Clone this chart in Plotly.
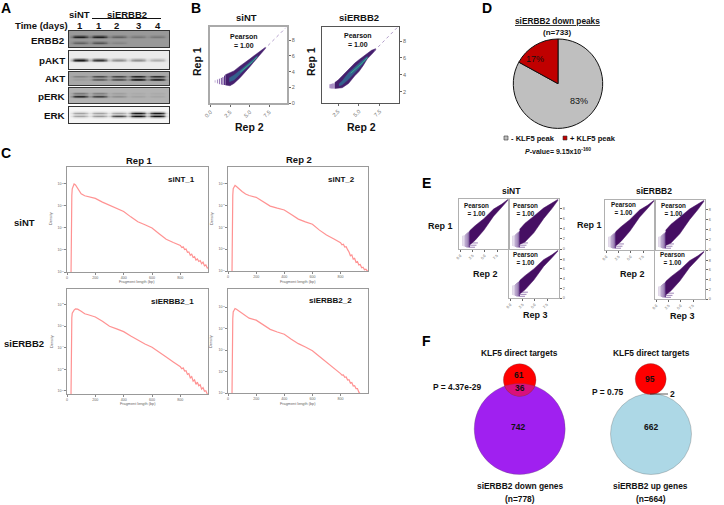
import numpy as np
import plotly.graph_objects as go

W, H = 724, 505
FONT = "Liberation Sans"

# ---- Panel A: blot band intensities per lane
lanes = [1, 2, 3, 4, 5]
lane_labels = ["1", "1", "2", "3", "4"]
erbb2_upper = [0.9, 0.9, 0.42, 0.25, 0.25]
erbb2_lower = [0.4, 0.5, 0.15, 0.0, 0.0]
pakt_band = [0.98, 0.85, 0.42, 0.42, 0.28]
akt_upper = [0.25, 0.6, 0.65, 0.85, 0.8]
akt_lower = [0.08, 0.5, 0.6, 0.95, 0.9]
perk_upper = [0.35, 0.3, 0.12, 0.05, 0.05]
perk_lower = [0.85, 0.7, 0.22, 0.1, 0.08]
erk_upper = [0.35, 0.35, 0.35, 0.95, 0.95]
erk_lower = [0.35, 0.4, 0.75, 1.0, 1.0]

# ---- Panel B: density bands (Rep 2 -> Rep 1 bounds)
b1_x = [1.9, 2.5, 3.0, 3.75, 4.5, 5.0, 5.5, 6.0, 6.5, 7.0]
b1_low = [2.3, 2.2, 2.5, 3.2, 4.0, 4.6, 5.2, 5.8, 6.4, 6.95]
b1_up = [3.6, 3.9, 4.1, 4.7, 5.2, 5.6, 6.0, 6.4, 6.7, 7.1]
b1_mid_x = [2.4, 3.0, 3.75, 4.5, 5.2, 6.0]
b1_mid_low = [2.7, 2.95, 3.65, 4.35, 5.05, 5.95]
b1_mid_up = [3.2, 3.55, 4.15, 4.75, 5.4, 6.05]
b1_core_x = [3.8, 4.3, 4.8, 5.4, 5.9]
b1_core_y = [3.95, 4.35, 4.8, 5.3, 5.85]
b1_strip_x = [0.6, 0.9, 1.15, 1.4, 1.6, 1.8]
b1_strip_low = [2.6, 2.5, 2.4, 2.35, 2.3, 2.3]
b1_strip_up = [2.9, 3.0, 3.1, 3.2, 3.3, 3.5]
b2_x = [2.1, 2.5, 3.0, 3.75, 4.5, 5.0, 5.5, 6.0, 6.5, 7.0]
b2_low = [2.4, 2.4, 2.5, 3.0, 3.9, 4.4, 5.1, 5.9, 6.4, 6.95]
b2_up = [3.1, 3.4, 3.9, 4.7, 5.4, 5.8, 6.2, 6.6, 6.9, 7.1]
b2_mid_x = [2.6, 3.0, 3.75, 4.5, 5.2, 6.0]
b2_mid_low = [2.7, 2.85, 3.5, 4.25, 5.0, 6.0]
b2_mid_up = [2.95, 3.3, 4.25, 4.95, 5.55, 6.2]
b2_core_x = [4.0, 4.5, 5.0, 5.5, 6.0]
b2_core_y = [4.2, 4.6, 5.05, 5.5, 6.05]
b2_strip_x = [1.55, 1.7, 1.85, 2.0]
b2_strip_low = [2.45, 2.4, 2.4, 2.4]
b2_strip_up = [2.9, 2.95, 3.0, 3.0]
diag_b1 = [6.8, 8.0, 8.8, 9.6]
diag_b2 = [6.8, 8.0, 8.8, 9.6]

# ---- Panel C: fragment length densities
frag_x = [27, 28, 29, 30, 31, 32, 34, 37, 42, 50, 60, 75, 100, 125, 150, 200, 250, 300, 350, 400,
          450, 500, 550, 600, 650, 700, 750, 800, 810, 820, 830, 840, 850, 860, 870, 880, 890, 900,
          910, 920, 930, 940, 950, 960, 970, 980, 990, 995]
sint_1 = [1e-7, 1e-6, 5e-6, 2e-4, 6e-4, 1e-3, 3e-3, 6e-3, 8e-3, 1.0e-2, 9e-3, 6e-3, 3.6e-3, 2.9e-3, 2.6e-3,
          2.2e-3, 1.5e-3, 1.05e-3, 7.5e-4, 5.6e-4, 3.2e-4, 1.9e-4, 1.4e-4, 1.0e-4, 5.5e-5, 3.1e-5, 2.2e-5, 1.6e-5,
          1.3e-5, 1.4e-5, 1.05e-5, 1.1e-5, 7.8e-6, 8.2e-6, 5.8e-6, 6.5e-6, 4.6e-6, 5.0e-6, 3.5e-6, 3.9e-6, 3.0e-6,
          3.3e-6, 2.4e-6, 2.8e-6, 1.9e-6, 2.1e-6, 1.5e-6, 1.6e-6]
sint_2 = [1e-7, 1e-6, 5e-6, 2e-4, 6e-4, 1e-3, 3e-3, 6e-3, 7.5e-3, 8.5e-3, 7.5e-3, 6e-3, 4.4e-3, 3.4e-3, 2.9e-3,
          2.4e-3, 1.5e-3, 9.5e-4, 7.6e-4, 6.3e-4, 3.9e-4, 2.4e-4, 1.8e-4, 1.4e-4, 7.5e-5, 4.5e-5, 3.0e-5, 2.0e-5,
          1.6e-5, 1.7e-5, 1.25e-5, 1.3e-5, 9.5e-6, 7.5e-6, 5.0e-6, 5.5e-6, 3.5e-6, 3.8e-6, 2.5e-6, 2.7e-6, 1.9e-6,
          2.0e-6, 1.4e-6, 1.5e-6, 1.15e-6, 1.2e-6, 1.0e-6, 1.0e-6]
sierbb2_1 = [1e-7, 1e-6, 5e-6, 2e-4, 4e-4, 9e-4, 2.5e-3, 4e-3, 5e-3, 5.6e-3, 6.4e-3, 6.2e-3, 5e-3, 3.8e-3, 3.4e-3,
             2.7e-3, 1.7e-3, 1.0e-3, 7.5e-4, 5.6e-4, 3.5e-4, 2.2e-4, 1.5e-4, 1.05e-4, 6e-5, 3.7e-5, 2.2e-5, 1.3e-5,
             1.05e-5, 1.15e-5, 8.2e-6, 8.6e-6, 5.8e-6, 6.3e-6, 4.0e-6, 4.6e-6, 2.8e-6, 3.2e-6, 2.0e-6, 2.5e-6, 1.7e-6,
             1.9e-6, 1.2e-6, 1.4e-6, 9.5e-7, 1.0e-6, 7e-7, 7e-7]
sierbb2_2 = [1e-7, 1e-6, 5e-6, 2e-4, 6e-4, 1e-3, 3e-3, 6e-3, 7.5e-3, 8.7e-3, 8e-3, 6.8e-3, 5.5e-3, 3.8e-3, 3.1e-3,
             2.5e-3, 1.5e-3, 9.3e-4, 7e-4, 5.5e-4, 3.2e-4, 2.0e-4, 1.4e-4, 9.3e-5, 5e-5, 2.8e-5, 1.5e-5, 8e-6,
             6.8e-6, 7.0e-6, 5.4e-6, 5.6e-6, 4.0e-6, 4.2e-6, 2.9e-6, 3.1e-6, 2.1e-6, 2.2e-6, 1.6e-6, 1.6e-6, 1.1e-6,
             9e-7, 7e-7, 6e-7, 5e-7, 4e-7, 3e-7, 3e-7]
density_ticks = [1e-6, 1e-5, 1e-4, 1e-3, 1e-2]
density_ticktext = ["10<sup>-6</sup>", "10<sup>-5</sup>", "10<sup>-4</sup>", "10<sup>-3</sup>", "10<sup>-2</sup>"]
frag_ticks = [0, 200, 400, 600, 800]

# ---- Panel D
pie_labels = ["- KLF5 peak", "+ KLF5 peak"]
pie_values = [83, 17]

# ---- Panel E: correlation bands
e_narrow_x = [1.9, 3.0, 4.8, 6.8, 8.5, 9.7]
e_narrow_low = [0.8, 1.7, 3.7, 6.5, 8.3, 9.65]
e_narrow_up = [3.6, 4.6, 6.0, 7.9, 8.9, 9.8]
e_wide_x = [1.9, 3.0, 4.8, 6.8, 8.5, 9.7]
e_wide_low = [0.9, 1.4, 3.2, 6.0, 8.0, 9.6]
e_wide_up = [3.9, 5.1, 6.5, 8.1, 9.1, 9.8]
e_strip_x = [0.5, 0.8, 1.1, 1.35, 1.6, 1.85]
e_strip_low = [0.6, 0.5, 0.4, 0.3, 0.3, 0.3]
e_strip_up = [2.6, 2.7, 2.9, 3.1, 3.3, 3.5]
e_row_y = [0.35, 0.75, 1.2]
e_row_x_end = [3.0, 3.3, 3.6]
pearson_text = "Pearson<br>= 1.00"

# ---- Panel F
down_counts = [61, 36, 742]
up_counts = [95, 2, 662]

fig = go.Figure()
n_axes = [0]


def add_axes(box, xr, yr, xkw=None, ykw=None):
    """box = left, top, right, bottom of the plot in page pixels."""
    n_axes[0] += 1
    n = n_axes[0]
    l, t, r, b = box
    base = dict(showgrid=False, zeroline=False, fixedrange=True, automargin=False)
    x = dict(base, domain=[l / W, r / W], range=xr, anchor=f"y{n}", showticklabels=False, ticks="")
    y = dict(base, domain=[1 - b / H, 1 - t / H], range=yr, anchor=f"x{n}", showticklabels=False, ticks="")
    x.update(xkw or {})
    y.update(ykw or {})
    fig.layout[f"xaxis{n}"] = x
    fig.layout[f"yaxis{n}"] = y
    return f"x{n}", f"y{n}"


def frame(color, width=1):
    return dict(showline=True, mirror=True, linecolor=color, linewidth=width)


# ---------- Panel A
def blot(box, background, rows):
    xa, ya = add_axes(box, [0.436, 5.615], [1, 0], frame("#333", 1), frame("#333", 1))
    xs = np.linspace(0.436, 5.615, 80)
    ys = np.linspace(0, 1, 30)
    z = np.full((len(ys), len(xs)), float(background))
    for row_y, strengths in rows:
        for lane, s in zip(lanes, strengths):
            across = np.exp(-(((xs - lane) / 0.42) ** 4))
            down = np.exp(-(((ys - row_y) / 0.075) ** 2))
            z -= s * background * 0.95 * np.outer(down, across)
    fig.add_trace(go.Heatmap(x=xs, y=ys, z=np.clip(z, 0, 1), zmin=0, zmax=1, zsmooth="best", showscale=False,
                             colorscale=[[0, "#000"], [1, "#fff"]], hoverinfo="skip", xaxis=xa, yaxis=ya))


blot((69, 31, 169, 47), 0.6, [(0.36, erbb2_upper), (0.74, erbb2_lower)])
blot((69, 51, 169, 69), 0.92, [(0.5, pakt_band)])
blot((69, 72, 169, 85), 0.66, [(0.36, akt_upper), (0.58, akt_lower)])
blot((69, 88, 169, 103), 0.7, [(0.36, perk_upper), (0.57, perk_lower)])
blot((69, 107, 169, 123), 0.96, [(0.38, erk_upper), (0.58, erk_lower)])


# ---------- Shared helpers for density scatter panels
def band(xa, ya, xs, low, up, color):
    fig.add_trace(go.Scatter(x=list(xs) + list(xs)[::-1], y=list(up) + list(low)[::-1], mode="lines", fill="toself",
                             fillcolor=color, line=dict(color=color, width=0.5), hoverinfo="skip", xaxis=xa, yaxis=ya))


def strips(xa, ya, xs, low, up, colors, width):
    for x0, lo, hi, c in zip(xs, low, up, colors):
        fig.add_trace(go.Scatter(x=[x0, x0], y=[lo, hi], mode="lines", line=dict(color=c, width=width),
                                 hoverinfo="skip", xaxis=xa, yaxis=ya))


def right_ticks(vals, size=5.5):
    return dict(side="right", tickvals=vals, showticklabels=True, ticks="outside", ticklen=2, tickwidth=0.7,
                tickcolor="#666", tickfont=dict(size=size, color="#666", family=FONT))


def bottom_ticks(vals, texts, size=5.5):
    return dict(tickvals=vals, ticktext=texts, tickangle=-45, showticklabels=True, ticks="outside", ticklen=2,
                tickwidth=0.7, tickcolor="#666", tickfont=dict(size=size, color="#666", family=FONT))


# ---------- Panel B
b_shades = ["#c3b3d6", "#a88fc4", "#8f6fb2", "#7a55a0", "#653c92", "#552a86"]
x1, y1 = add_axes((210, 27, 287, 103), [-0.05, 9.75], [0, 9.7],
                  dict(frame("#aaa", 1.5), **bottom_ticks([0, 2.5, 5, 7.5], ["0.0", "2.5", "5.0", "7.5"])),
                  dict(frame("#aaa", 1.5), **right_ticks([0, 2, 4, 6, 8])))
strips(x1, y1, b1_strip_x, b1_strip_low, b1_strip_up, b_shades, 1)
band(x1, y1, b1_x, b1_low, b1_up, "#46206e")
band(x1, y1, b1_mid_x, b1_mid_low, b1_mid_up, "#34608d")
fig.add_trace(go.Scatter(x=b1_core_x, y=b1_core_y, mode="lines", line=dict(color="#35b08a", width=1),
                         hoverinfo="skip", xaxis=x1, yaxis=y1))
fig.add_trace(go.Scatter(x=diag_b1, y=diag_b1, mode="lines", line=dict(color="#7d5ba6", width=0.6, dash="dot"),
                         hoverinfo="skip", xaxis=x1, yaxis=y1))

x2, y2 = add_axes((322, 27, 399, 103), [0.57, 9.8], [0.7, 9.65],
                  dict(frame("#555", 1), **bottom_ticks([2.5, 5, 7.5], ["2.5", "5.0", "7.5"])),
                  dict(frame("#555", 1), **right_ticks([2, 4, 6, 8])))
strips(x2, y2, b2_strip_x, b2_strip_low, b2_strip_up, ["#a98fc4"] * 4, 1.6)
band(x2, y2, b2_x, b2_low, b2_up, "#46206e")
band(x2, y2, b2_mid_x, b2_mid_low, b2_mid_up, "#34608d")
fig.add_trace(go.Scatter(x=b2_core_x, y=b2_core_y, mode="lines", line=dict(color="#35b08a", width=1),
                         hoverinfo="skip", xaxis=x2, yaxis=y2))
fig.add_trace(go.Scatter(x=diag_b2, y=diag_b2, mode="lines", line=dict(color="#7d5ba6", width=0.6, dash="dot"),
                         hoverinfo="skip", xaxis=x2, yaxis=y2))


# ---------- Panel C
def frag_panel(box, values, yr):
    tick = dict(size=3.6, color="#666", family=FONT)
    xa, ya = add_axes(box, [0, 995], yr,
                      dict(frame("#999", 1.2), tickvals=frag_ticks, showticklabels=True, ticks="outside", ticklen=1.5,
                           tickwidth=0.5, tickcolor="#888", tickfont=tick),
                      dict(frame("#999", 1.2), type="log", tickvals=density_ticks, ticktext=density_ticktext,
                           showticklabels=True, ticks="outside", ticklen=1.5, tickwidth=0.5, tickcolor="#888",
                           tickfont=tick))
    fig.add_trace(go.Scatter(x=frag_x, y=values, mode="lines", line=dict(color="rgba(255,90,90,0.66)", width=1.2),
                             hoverinfo="skip", xaxis=xa, yaxis=ya))


frag_panel((67, 167, 208, 272), sint_1, [-6.0, -1.23])
frag_panel((228, 167, 368, 271), sint_2, [-6.0, -1.23])
frag_panel((67, 289, 208, 394), sierbb2_1, [-6.15, -1.27])
frag_panel((228, 289, 368, 393), sierbb2_2, [-6.0, -1.15])

# ---------- Panel D
fig.add_trace(go.Pie(labels=pie_labels, values=pie_values, sort=False, direction="clockwise", rotation=0,
                     textinfo="none", hoverinfo="skip", showlegend=False,
                     marker=dict(colors=["#bfbfbf", "#c00000"], line=dict(color="#111", width=1)),
                     domain=dict(x=[(558 - 44.7) / W, (558 + 44.7) / W], y=[1 - (83.7 + 44.7) / H, 1 - (83.7 - 44.7) / H])))


# ---------- Panel E
e_shades = ["#d8cce2", "#c8b8d8", "#b09ac6", "#8f6fab", "#6e4590", "#5a2c82"]


def corr_panel(box, xr, yr, xs, low, up, xkw=None, ykw=None):
    xa, ya = add_axes(box, xr, yr, dict(frame("#b0b0b0", 1), **(xkw or {})), dict(frame("#b0b0b0", 1), **(ykw or {})))
    strips(xa, ya, e_strip_x, e_strip_low, e_strip_up, e_shades, 1.1)
    for y0, x_end in zip(e_row_y, e_row_x_end):
        fig.add_trace(go.Scatter(x=[1.9, x_end], y=[y0, y0], mode="lines", line=dict(color="#9f85b8", width=1),
                                 hoverinfo="skip", xaxis=xa, yaxis=ya))
    band(xa, ya, xs, low, up, "#460f63")


e_x_ticks = bottom_ticks([0, 2.5, 5, 7.5], ["0.0", "2.5", "5.0", "7.5"], 3.8)
e_y_ticks = right_ticks([0, 2, 4, 6, 8], 3.8)
for dx, dy in [(0, 0), (146, 1)]:
    corr_panel((459 + dx, 199 + dy, 509 + dx, 249 + dy), [-0.27, 9.95], [0, 9.9], e_narrow_x, e_narrow_low, e_narrow_up,
               e_x_ticks)
    corr_panel((509 + dx, 199 + dy, 559 + dx, 249 + dy), [-0.27, 9.95], [0, 9.9], e_wide_x, e_wide_low, e_wide_up,
               None, e_y_ticks)
    corr_panel((509 + dx, 250 + dy, 559 + dx, 298 + dy), [-0.27, 9.95], [0, 9.9], e_narrow_x, e_narrow_low, e_narrow_up,
               e_x_ticks, e_y_ticks)

# ---------- Page overlay axes in pixel units (Panel F circles and all the labels)
ox, oy = add_axes((0, 0, W, H), [0, W], [H, 0], dict(visible=False), dict(visible=False))


def circle(cx, cy, d, color):
    fig.add_trace(go.Scatter(x=[cx], y=[cy], mode="markers", hoverinfo="skip", xaxis=ox, yaxis=oy,
                             marker=dict(size=d, color=color, line=dict(color="rgba(90,90,90,0.6)", width=0.5))))


def lens(c1, r1, c2, r2, color):
    """Overlap of two circles stacked on one vertical line (c = (x, y))."""
    d = c2[1] - c1[1]
    a = (d * d + r1 * r1 - r2 * r2) / (2 * d)
    half = np.sqrt(r1 * r1 - a * a)
    t1 = np.arctan2(half, a)
    t2 = np.arctan2(half, d - a)
    ang1 = np.linspace(-t1, t1, 40)
    ang2 = np.linspace(t2, -t2, 40)
    xs = np.r_[c1[0] + r1 * np.sin(ang1), c2[0] + r2 * np.sin(ang2)]
    ys = np.r_[c1[1] + r1 * np.cos(ang1), c2[1] - r2 * np.cos(ang2)]
    fig.add_trace(go.Scatter(x=xs, y=ys, mode="lines", fill="toself", fillcolor=color, hoverinfo="skip",
                             line=dict(color="rgba(120,60,90,0.6)", width=0.5), xaxis=ox, yaxis=oy))


circle(519.7, 429, 91, "#a020f0")
circle(519.7, 380, 32.7, "#ff0000")
lens((519.7, 380), 16.35, (519.7, 429), 45.5, "#d9107c")
circle(651, 434, 81, "#add8e6")
circle(650.7, 379, 31, "#ff0000")
fig.add_trace(go.Scatter(x=[650, 668], y=[394, 394], mode="lines", line=dict(color="#333", width=0.8),
                         hoverinfo="skip", xaxis=ox, yaxis=oy))

# legend chips and rules
shapes = [
    dict(type="rect", xref=ox, yref=oy, x0=504, x1=508, y0=136, y1=140, fillcolor="#bfbfbf",
         line=dict(color="#333", width=0.6)),
    dict(type="rect", xref=ox, yref=oy, x0=563, x1=567, y0=136, y1=140, fillcolor="#c00000",
         line=dict(color="#333", width=0.6)),
    dict(type="line", xref=ox, yref=oy, x0=92, x1=161, y0=18.5, y1=18.5, line=dict(color="#111", width=1)),
]
fig.update_layout(shapes=shapes)


def txt(x, y, text, size=9, bold=True, anchor="center", angle=0, color="#111"):
    s = f"<b>{text}</b>" if bold else text
    fig.add_annotation(x=x, y=y, xref=ox, yref=oy, text=s, showarrow=False, xanchor=anchor, yanchor="middle",
                       textangle=angle, align="center", borderpad=0,
                       font=dict(family=FONT, size=size, color=color))


for x, y, letter in [(6, 8, "A"), (196, 8, "B"), (6, 153, "C"), (487, 8, "D"), (426, 183, "E"), (426, 341, "F")]:
    txt(x, y, letter, 14, color="#000")

txt(79, 14, "siNT", 9.5)
txt(127, 14, "siERBB2", 9.5)
txt(41, 25.5, "Time (days)", 9.5)
for x, label in zip([80, 99, 116, 138, 158], lane_labels):
    txt(x, 25.5, label, 9.5)
for y, label in [(40, "ERBB2"), (60, "pAKT"), (78, "AKT"), (96, "pERK"), (115, "ERK")]:
    txt(66, y, label, 9.8, anchor="right")

txt(246, 17, "siNT", 9.5)
txt(359, 17, "siERBB2", 9.5)
txt(197, 62, "Rep 1", 10.5, angle=-90)
txt(311, 62, "Rep 1", 10.5, angle=-90)
txt(249, 127, "Rep 2", 10.5)
txt(361, 127, "Rep 2", 10.5)
txt(244, 41, pearson_text, 7)
txt(358, 40, pearson_text, 7)

txt(139, 160, "Rep 1", 9.5)
txt(299, 159, "Rep 2", 9.5)
txt(24, 222, "siNT", 9.5)
txt(24, 343, "siERBB2", 9.5)
txt(181, 179, "siNT_1", 8)
txt(341, 179, "siNT_2", 8)
txt(172, 301, "siERBB2_1", 8)
txt(330, 300, "siERBB2_2", 8)
for x, y in [(137, 282), (298, 282), (138, 403.7), (298, 403.7)]:
    txt(x, y, "Fragment length (bp)", 3.8, bold=False, color="#666")
for x, y in [(51, 219), (212, 219), (52, 342), (211, 342)]:
    txt(x, y, "Density", 3.8, bold=False, angle=-90, color="#666")

txt(557, 21, "<u>siERBB2 down peaks</u>", 8.3)
txt(557, 32, "(n=733)", 8)
txt(579, 101, "83%", 9, bold=False)
txt(535, 59, "17%", 9, bold=False)
txt(510, 138, "- KLF5 peak", 7.6, anchor="left")
txt(569, 138, "+ KLF5 peak", 7.6, anchor="left")
txt(558, 151, "<i>P</i>-value= 9.15x10<sup>-160</sup>", 7)

txt(511, 191, "siNT", 8.5)
txt(654, 191, "siERBB2", 8.5)
txt(440, 226, "Rep 1", 9)
txt(589, 225, "Rep 1", 9)
txt(485, 274, "Rep 2", 9)
txt(632, 274, "Rep 2", 9)
txt(535, 315, "Rep 3", 9)
txt(682, 316, "Rep 3", 9)
for x, y in [(476, 209), (525, 209), (525, 258), (623, 208), (673, 209), (672, 258)]:
    txt(x, y, pearson_text, 6.3)

txt(519, 353, "KLF5 direct targets", 8.4)
txt(651, 353, "KLF5 direct targets", 8.4)
txt(519, 375, str(down_counts[0]), 8.5)
txt(519.7, 388, str(down_counts[1]), 8.5)
txt(518, 427, str(down_counts[2]), 8.5)
txt(650, 379, str(up_counts[0]), 8.5)
txt(672.7, 393.6, str(up_counts[1]), 8.5)
txt(651, 427, str(up_counts[2]), 8.5)
txt(457, 387, "P = 4.37e-29", 8.4)
txt(608, 392, "P = 0.75", 8.4)
txt(520, 486, "siERBB2 down genes", 8.4)
txt(520, 499, "(n=778)", 8.4)
txt(650, 486, "siERBB2 up genes", 8.4)
txt(651, 499, "(n=664)", 8.4)

fig.update_layout(width=W, height=H, margin=dict(l=0, r=0, t=0, b=0), paper_bgcolor="white",
                  plot_bgcolor="rgba(0,0,0,0)", showlegend=False, font=dict(family=FONT))
fig.write_html("out.html", config=dict(displayModeBar=False),
               post_script="document.body.style.margin='0';document.body.style.overflow='hidden';")
